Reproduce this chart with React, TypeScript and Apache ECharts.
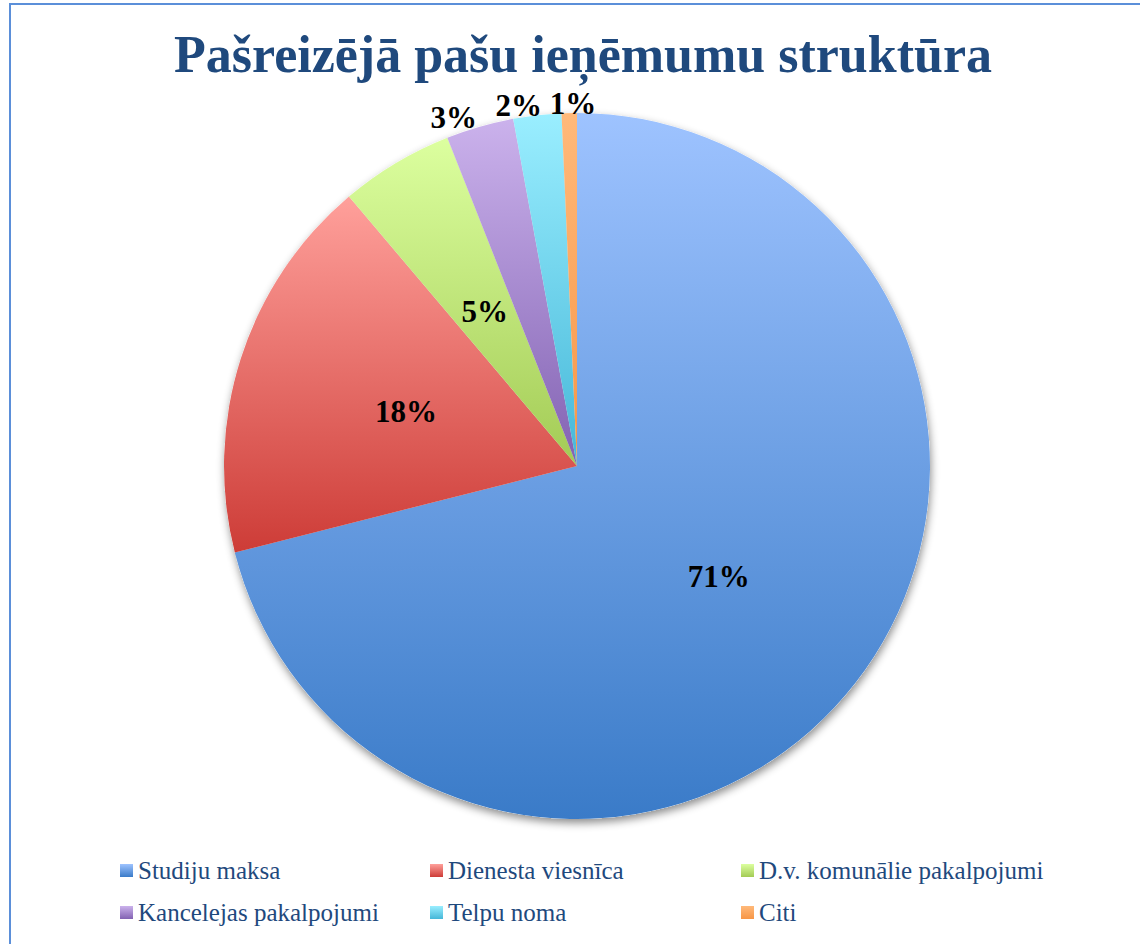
import React, { useEffect, useRef } from "react";
import * as echarts from "echarts";

const titleText = "Pašreizējā pašu ieņēmumu struktūra";
const categories = [
  "Studiju maksa",
  "Dienesta viesnīca",
  "D.v. komunālie pakalpojumi",
  "Kancelejas pakalpojumi",
  "Telpu noma",
  "Citi",
];
const values = [71.2, 17.8, 5.2, 3.1, 2.2, 0.7];
const lightColors = ["#9EC3FF", "#FFA09B", "#DCFF9F", "#CBB2EC", "#9AEEFF", "#FFB97A"];
const darkColors = ["#3A7BC8", "#CD3C37", "#A3CB55", "#8262B2", "#45B7D8", "#F79646"];
const outsideLabel = [false, false, false, true, true, true];
const legendColumns = [
  ["Studiju maksa", "Kancelejas pakalpojumi"],
  ["Dienesta viesnīca", "Telpu noma"],
  ["D.v. komunālie pakalpojumi", "Citi"],
];

const SERIF = "'Liberation Serif', 'DejaVu Serif', serif";

export default function App() {
  const ref = useRef<HTMLDivElement>(null);

  useEffect(() => {
    if (!ref.current) return;
    const chart = echarts.init(ref.current, undefined, { renderer: "svg" });

    const mainData = categories.map((name, i) => ({
      name,
      value: values[i],
      itemStyle: {
        color: new echarts.graphic.LinearGradient(0, 0, 0, 1, [
          { offset: 0, color: lightColors[i] },
          { offset: 1, color: darkColors[i] },
        ]),
      },
      label: outsideLabel[i]
        ? { position: "outside" as const }
        : { position: "inside" as const },
      labelLine: { show: false, length: 10, length2: 0 },
    }));

    const shadowData = categories.map((name, i) => ({ name, value: values[i] }));

    const legendX = [120, 430, 741];

    chart.setOption({
      animation: false,
      backgroundColor: "#ffffff",
      title: {
        text: titleText,
        left: 578,
        top: 23,
        textAlign: "center",
        textStyle: {
          fontFamily: SERIF,
          fontWeight: "bold",
          fontSize: 52,
          color: "#1F497D",
        },
      },
      legend: legendColumns.map((col, k) => ({
        data: col,
        orient: "vertical",
        left: legendX[k],
        top: 858,
        padding: 0,
        itemGap: 17,
        itemWidth: 13,
        itemHeight: 13,
        icon: "rect",
        selectedMode: false,
        textStyle: {
          fontFamily: SERIF,
          fontSize: 25,
          lineHeight: 25,
          color: "#1F497D",
        },
      })),
      graphic: [
        {
          type: "rect",
          shape: { x: 10, y: 4, width: 1140, height: 960 },
          style: { fill: "none", stroke: "#5B8FD9", lineWidth: 2 },
          silent: true,
        },
      ],
      series: [
        {
          type: "pie",
          z: 3,
          center: [577, 466],
          radius: 353,
          startAngle: 90,
          clockwise: true,
          avoidLabelOverlap: false,
          percentPrecision: 0,
          label: {
            show: true,
            formatter: "{d}%",
            fontFamily: SERIF,
            fontWeight: "bold",
            fontSize: 31,
            color: "#000000",
            distanceToLabelLine: 0,
          },
          labelLayout: (params: any) =>
            params.dataIndex === 5
              ? { align: "center", dx: 4 }
              : params.dataIndex === 4
              ? { dx: 6 }
              : {},
          itemStyle: { borderWidth: 0 },
          emphasis: { disabled: true },
          data: mainData,
        },
        {
          type: "pie",
          z: 1,
          silent: true,
          center: [577, 466],
          radius: 353,
          startAngle: 90,
          clockwise: true,
          label: { show: false },
          labelLine: { show: false },
          itemStyle: {
            color: "#ffffff",
            shadowBlur: 8,
            shadowOffsetX: 1,
            shadowOffsetY: 4,
            shadowColor: "rgba(0,0,0,0.45)",
          },
          emphasis: { disabled: true },
          data: shadowData,
        },
      ],
    });

    return () => chart.dispose();
  }, []);

  return (
    <div
      ref={ref}
      style={{ position: "fixed", left: 0, top: 0, width: 1140, height: 944 }}
    />
  );
}
